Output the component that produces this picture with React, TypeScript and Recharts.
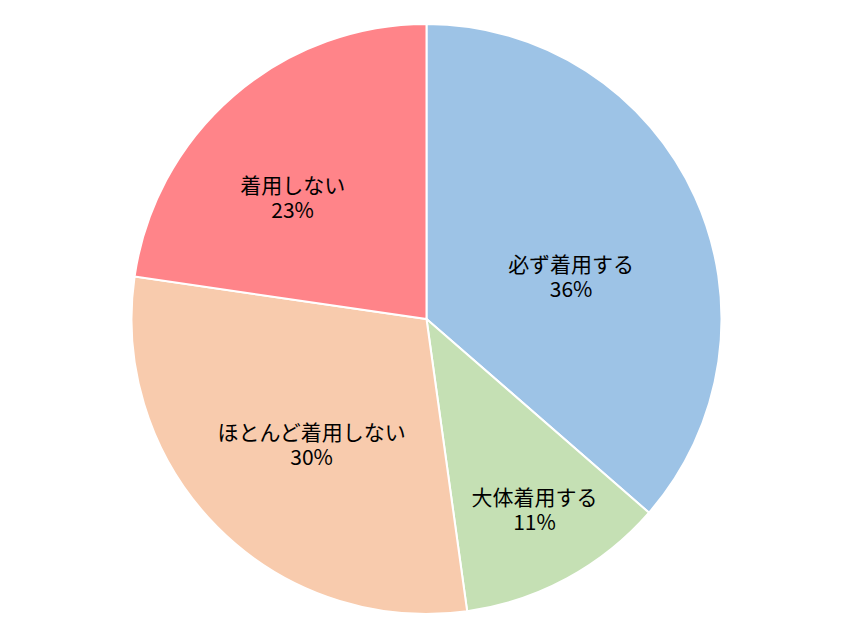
import React from "react";
import { PieChart, Pie, Cell } from "recharts";

// 回答カテゴリ（12時から時計回り）
const categories = ["必ず着用する", "大体着用する", "ほとんど着用しない", "着用しない"];
// 割合（%）
const shares = [36.4, 11.4, 29.5, 22.7];
// 表示するラベルの値
const percentLabels = ["36%", "11%", "30%", "23%"];

const COLORS = ["#9dc3e6", "#c5e0b4", "#f8cbad", "#ff8489"];
// ラベル位置の調整（半径の割合と角度のずれ）
const LABEL_RADIUS = [0.51, 0.745, 0.58, 0.61];
const LABEL_TURN = [-8.5, 1, 3, 7.2];
const RADIAN = Math.PI / 180;

const data = categories.map((name, i) => ({
  name,
  value: shares[i],
  label: percentLabels[i],
}));

const renderLabel = (props: any) => {
  const { cx, cy, midAngle, outerRadius, index } = props;
  const r = outerRadius * LABEL_RADIUS[index];
  const a = (midAngle + LABEL_TURN[index]) * RADIAN;
  const x = cx + r * Math.cos(-a);
  const y = cy + r * Math.sin(-a);
  const font = { fontSize: 21, fontFamily: "'Noto Sans CJK JP', sans-serif", fill: "#000" };
  return (
    <g>
      <text x={x} y={y - 14.5} textAnchor="middle" dominantBaseline="central" {...font}>
        {data[index].name}
      </text>
      <text x={x} y={y + 10.5} textAnchor="middle" dominantBaseline="central" {...font}>
        {data[index].label}
      </text>
    </g>
  );
};

export default function App() {
  return (
    <div style={{ position: "fixed", left: 0, top: 0, width: 851, height: 638, background: "#fff" }}>
      <PieChart width={851} height={638} margin={{ top: 0, right: 0, bottom: 0, left: 0 }}>
        <Pie
          data={data}
          dataKey="value"
          cx={426.5}
          cy={319}
          outerRadius={295}
          startAngle={90}
          endAngle={-270}
          stroke="#fff"
          strokeWidth={2}
          label={renderLabel}
          labelLine={false}
          isAnimationActive={false}
        >
          {data.map((d, i) => (
            <Cell key={d.name} fill={COLORS[i]} />
          ))}
        </Pie>
      </PieChart>
    </div>
  );
}
